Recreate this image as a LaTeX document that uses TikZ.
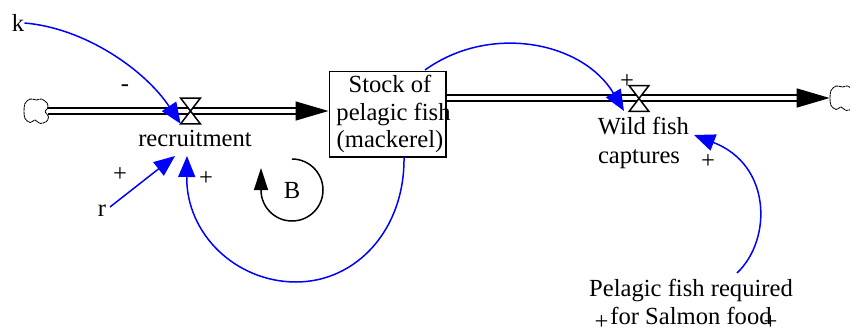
\documentclass[tikz,border=0pt]{standalone}
\usepackage{fontspec}
\setmainfont{Liberation Serif}
\usetikzlibrary{arrows.meta}

\tikzset{
    txt/.style={inner sep=0pt,align=center},
    stockbox/.style={draw,line width=0.85pt,inner sep=0pt,minimum width=2.33cm,minimum height=1.71cm},
    valve/.style={inner sep=0pt,minimum width=0.38cm,minimum height=0.5cm},
    source/.style={inner sep=0pt,minimum width=0.48cm,minimum height=0.5cm},
    sourceline/.style={line width=0.5pt,dash pattern=on 1.5pt off 0.3pt},
    flowline/.style={double,double distance=2.6pt,line width=0.85pt,-{Triangle[length=0.66cm,width=0.38cm]}},
    link/.style={blue,line width=0.85pt,-{Triangle[length=0.42cm,width=0.34cm]}},
    looparrow/.style={line width=0.85pt,-{Triangle[length=0.44cm,width=0.28cm]}},
}

\begin{document}
\begin{tikzpicture}[font=\fontsize{14}{15.6}\selectfont,x=1cm,y=1cm]
    \useasboundingbox (0,0) rectangle (17,6.6);

    % stock and flows
    \node[stockbox] (stock) at (7.75,4.32) {};
    \node[txt] (stocklabel) at (7.8,4.32) {Stock of\\\hspace*{4pt}pelagic fish\\(mackerel)};
    \node[source] (cloudL) at (0.72,4.38) {};
    \node[source] (cloudR) at (16.84,4.64) {};
    \node[valve] (vrec) at (3.81,4.38) {};
    \node[valve] (vcap) at (12.78,4.63) {};

    \draw[flowline] (cloudL.east) -- (cloudL.east -| stock.west);
    \draw[flowline] (stock.east |- cloudR.west) -- (cloudR.west);
    \foreach \c in {cloudL,cloudR}
        \draw[sourceline,shift={(\c.center)}] plot[smooth cycle] coordinates {
            (-.22,.15) (-.12,.24) (.01,.22) (.11,.24) (.23,.15) (.23,.05) (.18,-.01)
            (.25,-.11) (.21,-.21) (.08,-.25) (-.02,-.18) (-.12,-.23) (-.22,-.15) (-.24,-.01)};
    \foreach \v in {vrec,vcap}
        \draw[fill=white,line width=0.85pt] (\v.north west) -- (\v.north east)
            -- (\v.south west) -- (\v.south east) -- cycle;

    % labels
    \node[txt] (k) at (0.36,6.14) {k};
    \node[txt] (r) at (2.04,2.38) {r};
    \node[txt] (recruitment) at (3.9,3.84) {recruitment};
    \node[txt,font=\fontsize{14}{16.4}\selectfont] (captures) at (12.78,3.74) {\hspace*{5pt}Wild fish\\captures};
    \node[txt] (required) at (13.82,0.56) {Pelagic fish required\\for Salmon food};
    \node[txt] (B) at (5.84,2.8) {B};

    % polarity signs
    \node[txt] (minusk) at (2.5,4.84) {-};
    \node[txt] (plusr) at (2.4,3.1) {+};
    \node[txt] (plusrec) at (4.12,3.02) {+};
    \node[txt] (pluscap) at (12.54,4.96) {+};
    \node[txt] (plusreq) at (14.16,3.36) {+};
    \node[txt] (plusa) at (12.03,0.14) {+};
    \node[txt] (plusb) at (15.41,0.14) {+};

    % link ends
    \coordinate (rout) at (2.2,2.46);
    \coordinate (rin) at (3.5,3.48);
    \coordinate (stockout) at (8.08,3.46);
    \coordinate (loopin) at (3.74,3.48);
    \coordinate (capout) at (8.5,5.2);
    \coordinate (capin) at (12.48,4.38);
    \coordinate (reqout) at (14.74,1.14);
    \coordinate (reqin) at (13.88,3.9);

    \draw[link] (k.east) .. controls (1.7,6.04) and (2.9,5.2) .. (vrec.south west);
    \draw[link] (rout) -- (rin);
    \draw[link] (stockout) .. controls (8.1,2.0) and (7.12,0.96) .. (5.92,0.96)
        .. controls (4.72,0.96) and (3.72,1.92) .. (loopin);
    \draw[link] (capout) .. controls (9.81,6.14) and (11.66,5.76) .. (capin);
    \draw[link] (reqout) .. controls (15.44,1.8) and (15.44,3.3) .. (reqin);

    \draw[looparrow] ([yshift=0.62cm]B.center) arc[start angle=90,end angle=-180,radius=0.62]
        -- ++(0,0.44);
\end{tikzpicture}
\end{document}
